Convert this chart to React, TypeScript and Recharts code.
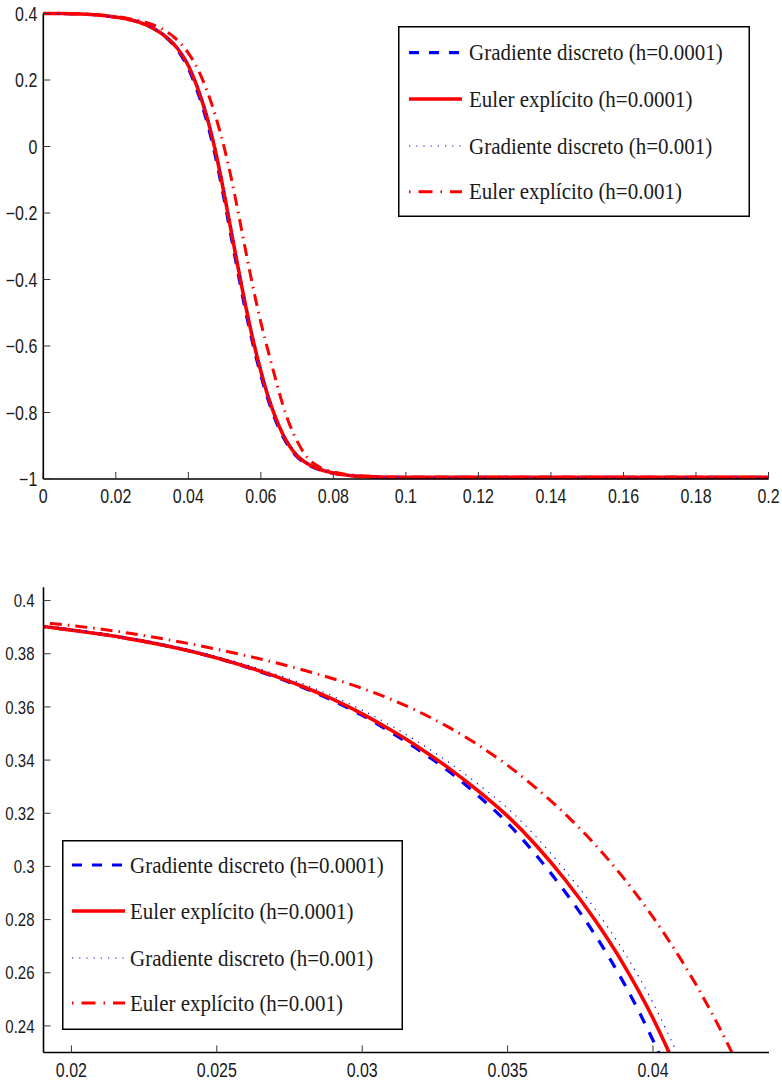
import React from "react";
import { LineChart, Line, XAxis, YAxis, Legend } from "recharts";

// time samples shared by the four runs
const xs = [
  0, 0.005, 0.01, 0.015,
  0.019, 0.02, 0.021, 0.022, 0.023, 0.024, 0.025, 0.026, 0.027, 0.028,
  0.029, 0.03, 0.031, 0.032, 0.033, 0.034, 0.035, 0.036, 0.037, 0.038,
  0.039, 0.04, 0.041, 0.042, 0.043, 0.044, 0.045, 0.046, 0.047, 0.048,
  0.049, 0.05, 0.051, 0.052, 0.053, 0.054, 0.055, 0.056, 0.057, 0.058,
  0.059, 0.06,
  0.062, 0.064, 0.066, 0.068, 0.07, 0.073, 0.076, 0.08, 0.085, 0.09,
  0.095, 0.1, 0.12, 0.14, 0.16, 0.18, 0.2,
];

const gradH4 = [
  0.4, 0.3998, 0.3985, 0.3955,
  0.3903, 0.3889, 0.3874, 0.3856, 0.3836, 0.3812, 0.3784, 0.375, 0.3713, 0.3671,
  0.3623, 0.3568, 0.3504, 0.3434, 0.3356, 0.3265, 0.3163, 0.304, 0.2901, 0.2744,
  0.2561, 0.2346, 0.2094, 0.1814, 0.1504, 0.1164, 0.0794, 0.0384, -0.0066, -0.0565,
  -0.11, -0.166, -0.224, -0.282, -0.34, -0.397, -0.4525, -0.506, -0.556, -0.603,
  -0.647, -0.688,
  -0.762, -0.822, -0.8705, -0.907, -0.9337, -0.9574, -0.9714, -0.9828, -0.9903, -0.993,
  -0.995, -0.995, -0.995, -0.995, -0.995, -0.995, -0.995,
];

const eulerH4 = [
  0.4, 0.3998, 0.3985, 0.3955,
  0.3903, 0.3889, 0.3874, 0.3856, 0.3836, 0.3812, 0.3784, 0.3752, 0.3716, 0.3675,
  0.3628, 0.3574, 0.3512, 0.3444, 0.3368, 0.3283, 0.3189, 0.3077, 0.2947, 0.2799,
  0.2629, 0.2429, 0.2189, 0.1919, 0.1619, 0.1289, 0.0929, 0.0529, 0.0089, -0.04,
  -0.093, -0.149, -0.207, -0.265, -0.323, -0.38, -0.436, -0.49, -0.541, -0.589,
  -0.634, -0.676,
  -0.752, -0.814, -0.864, -0.902, -0.93, -0.955, -0.97, -0.982, -0.99, -0.993,
  -0.995, -0.995, -0.995, -0.995, -0.995, -0.995, -0.995,
];

const gradH3 = [
  0.4, 0.3998, 0.3985, 0.3955,
  0.3905, 0.3892, 0.3878, 0.386, 0.3841, 0.3817, 0.379, 0.3759, 0.3724, 0.3685,
  0.364, 0.3588, 0.3529, 0.3463, 0.339, 0.3308, 0.3219, 0.3109, 0.2982, 0.2841,
  0.2679, 0.2487, 0.2255, 0.1993, 0.1701, 0.1379, 0.1027, 0.0634, 0.0202, -0.028,
  -0.0805, -0.1365, -0.1945, -0.2525, -0.3105, -0.3675, -0.4235, -0.478, -0.5295, -0.578,
  -0.6238, -0.6665,
  -0.744, -0.8075, -0.859, -0.898, -0.927, -0.953, -0.9688, -0.9814, -0.9898, -0.993,
  -0.995, -0.995, -0.995, -0.995, -0.995, -0.995, -0.995,
];

const eulerH3 = [
  0.4, 0.3998, 0.399, 0.3965,
  0.3917, 0.3906, 0.3893, 0.3877, 0.3859, 0.3839, 0.3817, 0.3793, 0.3767, 0.3738,
  0.3706, 0.367, 0.3628, 0.3579, 0.3522, 0.3456, 0.338, 0.3293, 0.3195, 0.3083,
  0.2955, 0.2809, 0.2643, 0.2453, 0.2235, 0.199, 0.172, 0.142, 0.109, 0.073,
  0.034, -0.008, -0.054, -0.104, -0.157, -0.212, -0.268, -0.324, -0.379, -0.432,
  -0.482, -0.529,
  -0.615, -0.697, -0.775, -0.838, -0.886, -0.938, -0.963, -0.979, -0.988, -0.992,
  -0.994, -0.995, -0.995, -0.995, -0.995, -0.995, -0.995,
];

const seriesNames = [
  "Gradiente discreto (h=0.0001)",
  "Euler explícito (h=0.0001)",
  "Gradiente discreto (h=0.001)",
  "Euler explícito (h=0.001)",
];

const topXTicks = [0, 0.02, 0.04, 0.06, 0.08, 0.1, 0.12, 0.14, 0.16, 0.18, 0.2];
const topYTicks = [-1, -0.8, -0.6, -0.4, -0.2, 0, 0.2, 0.4];
const zoomXTicks = [0.02, 0.025, 0.03, 0.035, 0.04];
const zoomYTicks = [0.24, 0.26, 0.28, 0.3, 0.32, 0.34, 0.36, 0.38, 0.4];

const rows = xs.map((x, i) => ({
  x,
  gradH4: gradH4[i],
  eulerH4: eulerH4[i],
  gradH3: gradH3[i],
  eulerH3: eulerH3[i],
}));

// drawing order as in the original plot
const series = [
  { key: "gradH4", color: "#0000ff", width: 3.2, dash: "11 10", legendDash: "10 10" },
  { key: "eulerH4", color: "#ff0000", width: 3.6, dash: undefined, legendDash: undefined },
  { key: "gradH3", color: "#0000ff", width: 1.2, dash: "1.2 6", legendDash: "1.2 6" },
  { key: "eulerH3", color: "#ff0000", width: 3, dash: "12 6 1.5 6", legendDash: "1.5 8 14 8" },
];

const fmt = (v: number) => String(v).replace("-", "\u2212");
const tickFont = "'Liberation Sans', Arial, sans-serif";

function XTick({ x, y, payload, fs }: any) {
  return (
    <g transform={`translate(${x},${y}) scale(1,1.22)`}>
      <text x={0} y={0} dy="0.72em" textAnchor="middle" fontSize={fs} fontFamily={tickFont} fill="#1a1a1a">
        {fmt(payload.value)}
      </text>
    </g>
  );
}

function YTick({ x, y, payload, fs }: any) {
  return (
    <g transform={`translate(${x},${y}) scale(1,1.22)`}>
      <text x={0} y={0} dy="0.36em" textAnchor="end" fontSize={fs} fontFamily={tickFont} fill="#1a1a1a">
        {fmt(payload.value)}
      </text>
    </g>
  );
}

function LegendBox({ w, h, rowY, s0, s1, tx }: any) {
  return (
    <svg width={w} height={h} style={{ display: "block" }}>
      <rect x={0.75} y={0.75} width={w - 1.5} height={h - 1.5} fill="#fff" stroke="#000" strokeWidth={1.5} />
      {series.map((s, i) => (
        <g key={s.key}>
          <line
            x1={s0}
            x2={s1}
            y1={rowY[i]}
            y2={rowY[i]}
            stroke={s.color}
            strokeWidth={s.width}
            strokeDasharray={s.legendDash}
          />
          <g transform={`translate(${tx},${rowY[i]}) scale(1,1.1)`}>
            <text x={0} y={0} dy="0.33em" fontFamily="'Liberation Serif', 'Times New Roman', serif" fontSize={21} fill="#1a1a1a">
              {seriesNames[i]}
            </text>
          </g>
        </g>
      ))}
    </svg>
  );
}

function Panel({ top, height, margin, xDomain, yDomain, xTicks, yTicks, yLeftWidth, xMargin, yMargin, yFs, clip, legend }: any) {
  const mainAxis = { stroke: "#000", strokeWidth: 1.6 };
  const sideAxis = { stroke: "#000", strokeWidth: 1.3 };
  const tickLine = { stroke: "#333", strokeWidth: 1 };
  return (
    <div style={{ position: "absolute", left: 0, top }}>
      <LineChart width={782} height={height} data={rows} margin={margin}>
        <XAxis
          dataKey="x"
          type="number"
          domain={xDomain}
          ticks={xTicks}
          allowDataOverflow={clip}
          height={30}
          tickSize={-7}
          tickMargin={xMargin}
          axisLine={mainAxis}
          tickLine={tickLine}
          tick={(p: any) => <XTick {...p} fs={16} />}
          interval={0}
        />
        <XAxis
          xAxisId="top"
          orientation="top"
          type="number"
          domain={xDomain}
          ticks={xTicks}
          allowDataOverflow
          height={0}
          tickSize={-7}
          axisLine={sideAxis}
          tickLine={tickLine}
          tick={false}
          interval={0}
        />
        <YAxis
          type="number"
          domain={yDomain}
          ticks={yTicks}
          allowDataOverflow={clip}
          width={yLeftWidth}
          tickSize={-7}
          tickMargin={yMargin}
          axisLine={mainAxis}
          tickLine={tickLine}
          tick={(p: any) => <YTick {...p} fs={yFs} />}
          interval={0}
        />
        <YAxis
          yAxisId="right"
          orientation="right"
          type="number"
          domain={yDomain}
          ticks={yTicks}
          allowDataOverflow
          width={0}
          tickSize={-7}
          axisLine={sideAxis}
          tickLine={tickLine}
          tick={false}
          interval={0}
        />
        {series.map((s) => (
          <Line
            key={s.key}
            type="monotone"
            dataKey={s.key}
            stroke={s.color}
            strokeWidth={s.width}
            strokeDasharray={s.dash}
            dot={false}
            activeDot={false}
            isAnimationActive={false}
          />
        ))}
        <Legend
          layout="horizontal"
          verticalAlign="middle"
          align="center"
          wrapperStyle={{ position: "absolute", left: legend.left, top: legend.top, width: legend.w, height: legend.h }}
          content={() => <LegendBox {...legend} />}
        />
      </LineChart>
    </div>
  );
}

export default function App() {
  return (
    <div style={{ position: "absolute", left: 0, top: 0, width: 782, height: 1083, background: "#fff" }}>
      <Panel
        top={0}
        height={520}
        margin={{ top: 13.5, right: 13.5, bottom: 11, left: 0 }}
        xDomain={[0, 0.2]}
        yDomain={[-1, 0.4]}
        xTicks={topXTicks}
        yTicks={topYTicks}
        yLeftWidth={43.3}
        xMargin={17}
        yMargin={13}
        yFs={16}
        clip={false}
        legend={{ left: 397.7, top: 26, w: 352, h: 191, rowY: [26.7, 73, 120, 165.7], s0: 11, s1: 64, tx: 71 }}
      />
      <Panel
        top={560}
        height={523}
        margin={{ top: 27.3, right: 13, bottom: 0.5, left: 0 }}
        xDomain={[0.01904, 0.04399]}
        yDomain={[0.23, 0.405]}
        xTicks={zoomXTicks}
        yTicks={zoomYTicks}
        yLeftWidth={43.5}
        xMargin={17.5}
        yMargin={16}
        yFs={15}
        clip={true}
        legend={{ left: 61.7, top: 280, w: 341, h: 190, rowY: [25, 71, 118, 163], s0: 10, s1: 63, tx: 68 }}
      />
    </div>
  );
}
